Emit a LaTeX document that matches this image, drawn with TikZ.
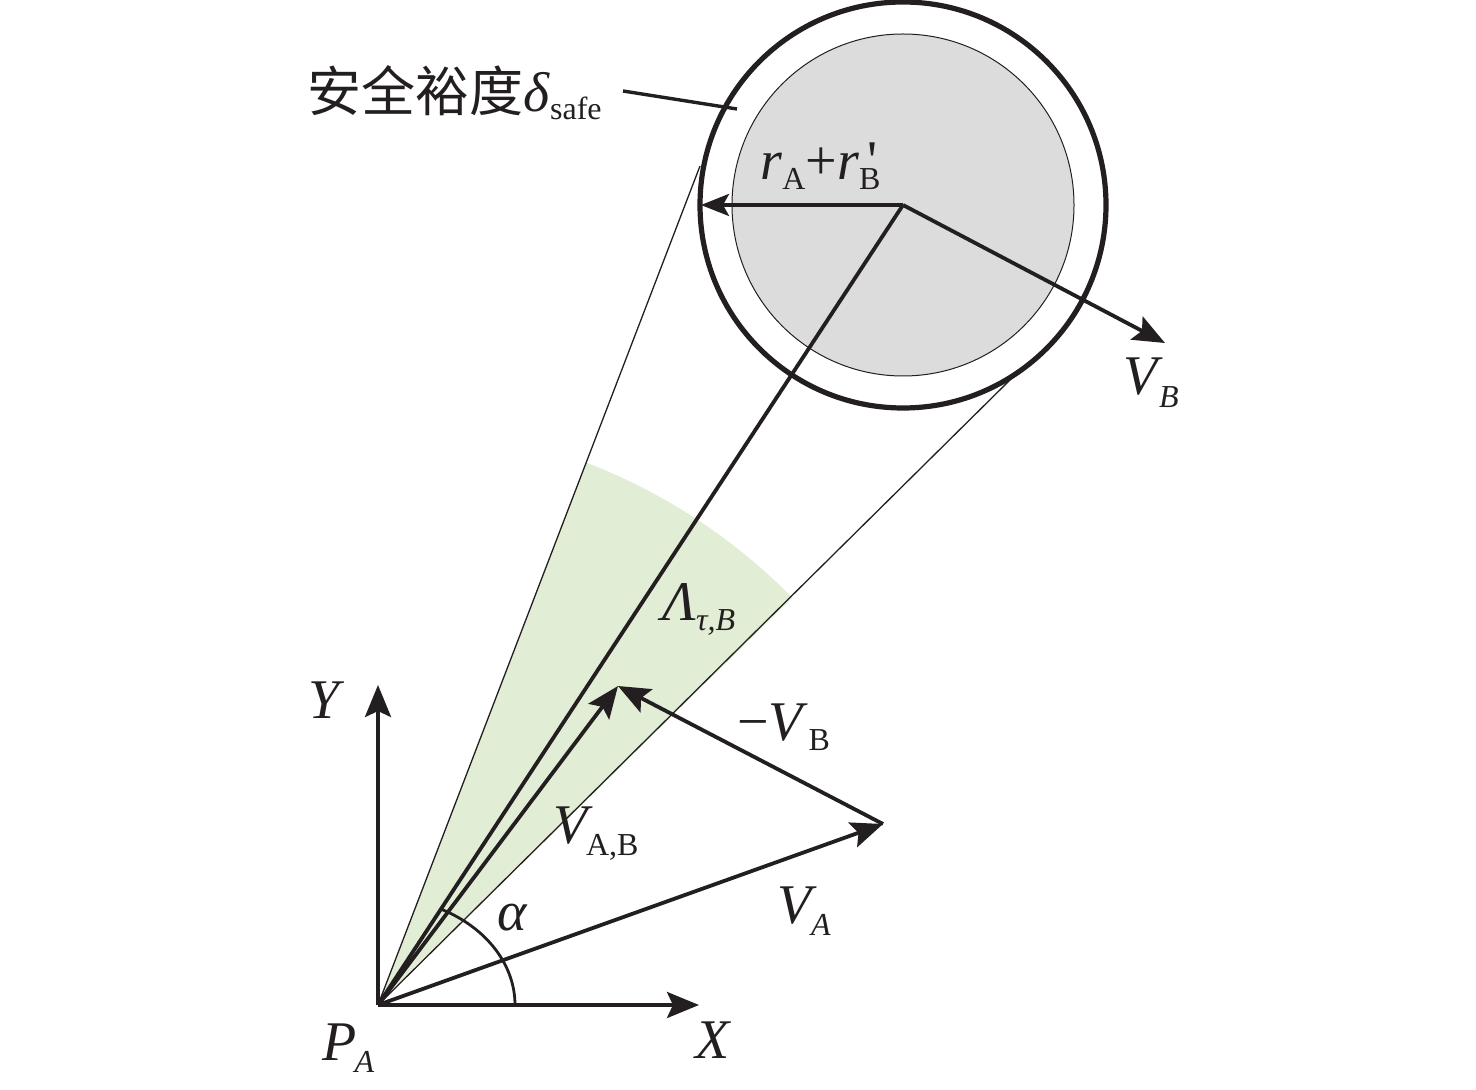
\documentclass[tikz,border=0pt]{standalone}
\usepackage{fontspec}
\setmainfont{Liberation Serif}
\newfontfamily\cjk{Noto Sans CJK SC}
\usetikzlibrary{arrows.meta}
\definecolor{ink}{RGB}{35,31,32}
\definecolor{sectorgreen}{RGB}{226,237,213}
\definecolor{discgray}{RGB}{220,220,220}
\newcommand{\sbs}[2][5pt]{\lower#1\hbox{\fontsize{16}{16}\selectfont #2}}
\tikzset{
  lbl/.style={font=\fontsize{28}{30}\selectfont, inner sep=0pt, anchor=base west, text=ink},
  thinline/.style={draw=ink, line width=0.65pt},
  thickline/.style={draw=ink, line width=1.9pt},
  arr/.style={thickline, -{Stealth[length=16pt,width=13pt,inset=3pt]}},
  arrsmall/.style={thickline, -{Stealth[length=14pt,width=11pt,inset=3pt]}},
}
\begin{document}
\begin{tikzpicture}[x=0.5pt,y=-0.5pt]
\useasboundingbox (0,0) rectangle (1476,1090);
\coordinate (PA) at (378,1005);
\coordinate (C) at (903,205);
\coordinate (Ytip) at (378,685);
\coordinate (Xtip) at (699,1005);
\coordinate (T1) at (700,166);
\coordinate (T2) at (1016,374);
\coordinate (R) at (701,205);
\coordinate (VBtip) at (1165,343);
\coordinate (VAtip) at (883,824);
\coordinate (VABtip) at (618,686);
\coordinate (L1) at (623,91);
\coordinate (L2) at (737,109);
% sector
\fill[sectorgreen] (PA) -- ++(-44.5:581) arc[start angle=-44.5,end angle=-69,radius=581] -- cycle;
% tangents
\draw[thinline] (PA) -- (T1);
\draw[thinline] (PA) -- (T2);
% circles
\draw[draw=ink, fill=discgray, line width=0.5pt] (C) circle (171);
\draw[draw=ink, line width=2.6pt] (C) circle (203);
% lines
\draw[thickline] (PA) -- (C);
\draw[arr] (C) -- (VBtip);
\draw[arrsmall] (C) -- (R);
\draw[arr] (PA) -- (Ytip);
\draw[arr] (PA) -- (Xtip);
\draw[arr] (PA) -- (VAtip);
\draw[arr] (VAtip) -- (VABtip);
\draw[arr] (PA) -- (VABtip);
\draw[draw=ink, line width=1.4pt] (PA) ++(137,0) arc[start angle=0,end angle=-62,x radius=137,y radius=108];
\draw[draw=ink, line width=1.7pt] (L1) -- (L2);
% labels
\node[lbl] (safe) at (307,112) {{\cjk\fontsize{27}{30}\selectfont 安全裕度}\textit{δ}\sbs[4pt]{safe}};
\node[lbl] (rad) at (760,180) {\textit{r}\sbs{A}+\textit{r}\rlap{\kern4pt\textquotesingle}\sbs{B}};
\node[lbl] (vb) at (1123,395) {\textit{V}\kern-2pt\sbs[6.5pt]{\textit{B}}};
\node[lbl] (lam) at (662,620) {\textit{Λ}\sbs{\textit{τ,B}}};
\node[lbl] (mvb) at (737,740) {−\textit{V}\sbs{B}};
\node[lbl] (vab) at (553,843) {\textit{V}\kern-3.5pt\sbs[6pt]{A,B}};
\node[lbl] (va) at (777,923) {\textit{V}\kern-3pt\sbs[6pt]{\textit{A}}};
\node[lbl] (alpha) at (497,930) {\textit{α}};
\node[lbl] (ylab) at (308,718) {\textit{Y}};
\node[lbl] (xlab) at (695,1058) {\textit{X}};
\node[lbl] (pa) at (322,1060) {\textit{P}\kern-1pt\sbs[6pt]{\textit{A}}};
\end{tikzpicture}
\end{document}
